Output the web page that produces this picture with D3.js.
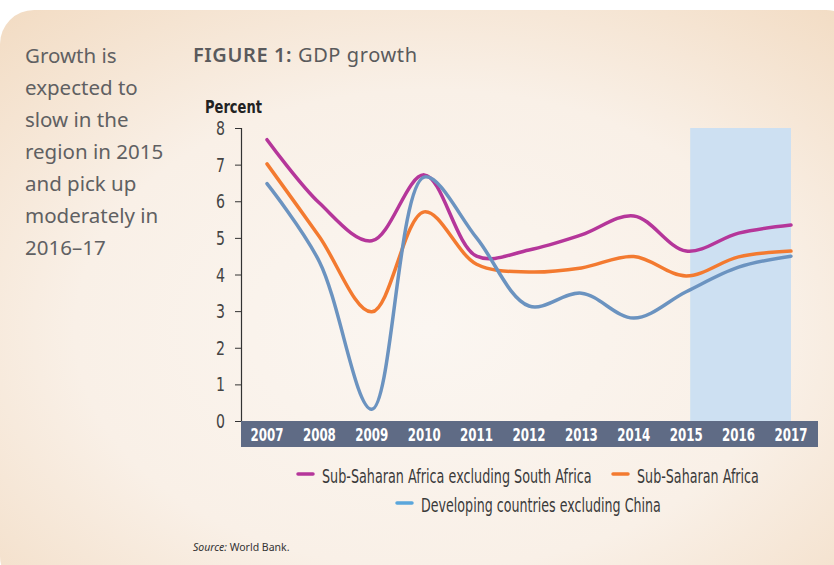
<!DOCTYPE html>
<html>
<head>
<meta charset="utf-8">
<script src="https://cdn.jsdelivr.net/npm/d3@7"></script>
<style>
  body { margin: 0; background: #fff; }
  svg { display: block; }
</style>
</head>
<body>
<svg id="chart" width="834" height="565"></svg>
<script>
// chart data
const years = [2007, 2008, 2009, 2010, 2011, 2012, 2013, 2014, 2015, 2016, 2017];
const ssaExSA = [7.68, 5.95, 4.92, 6.72, 4.5, 4.67, 5.08, 5.6, 4.64, 5.13, 5.35];
const ssa = [7.02, 5.03, 2.98, 5.71, 4.28, 4.07, 4.18, 4.49, 3.96, 4.48, 4.64];
const devExChina = [6.48, 4.35, 0.32, 6.66, 5.0, 3.14, 3.49, 2.81, 3.53, 4.2, 4.5];
const yTicks = [0, 1, 2, 3, 4, 5, 6, 7, 8];
const forecastYears = [2015, 2017];

const seriesList = [
  { name: 'Sub-Saharan Africa excluding South Africa', values: ssaExSA, color: '#b5369a' },
  { name: 'Sub-Saharan Africa', values: ssa, color: '#f37a30' },
  { name: 'Developing countries excluding China', values: devExChina, color: '#6b93c0' }
];

const svg = d3.select('#chart');
const avenir = '"Noto Sans", "Lato", sans-serif';
const narrow = '"DejaVu Sans", sans-serif';

// squeeze a text horizontally (no condensed font installed)
function squeeze (sel, x0, y0, w, anchor) {
  sel.each(function () {
    const t = d3.select(this);
    const len = this.getComputedTextLength();
    const k = Math.min(1, w / len);
    let dx = 0;
    if (anchor === 'middle') dx = -len * k / 2;
    if (anchor === 'end') dx = -len * k;
    t.attr('x', 0).attr('y', 0).attr('text-anchor', 'start')
      .attr('transform', `translate(${x0 + dx},${y0}) scale(${k},1)`);
  });
}

// background panel
const defs = svg.append('defs');
const grad = defs.append('radialGradient')
  .attr('id', 'bg')
  .attr('cx', '50%').attr('cy', '55%').attr('r', '75%');
grad.append('stop').attr('offset', '0%').attr('stop-color', '#fbf6f1');
grad.append('stop').attr('offset', '55%').attr('stop-color', '#f9f0e7');
grad.append('stop').attr('offset', '100%').attr('stop-color', '#f2dbc2');

svg.append('rect')
  .attr('x', 0).attr('y', 10)
  .attr('width', 860).attr('height', 580)
  .attr('rx', 34)
  .attr('fill', 'url(#bg)');

// left side text
const blurb = ['Growth is', 'expected to', 'slow in the', 'region in 2015', 'and pick up', 'moderately in', '2016–17'];
svg.append('g')
  .selectAll('text')
  .data(blurb)
  .join('text')
  .attr('x', 25)
  .attr('y', (d, i) => 63 + i * 32)
  .attr('font-family', avenir)
  .attr('font-size', 20.5)
  .attr('fill', '#606062')
  .text(d => d);

// title
const title = svg.append('text')
  .attr('x', 193).attr('y', 62)
  .attr('font-family', avenir)
  .attr('font-size', 20)
  .attr('letter-spacing', 0.6)
  .attr('fill', '#5a5a5c');
title.append('tspan').attr('font-weight', 600).text('FIGURE 1: ');
title.append('tspan').text('GDP growth');

// scales
const margin = { left: 241, right: 818, top: 128, bottom: 421 };
const x = d3.scalePoint()
  .domain(years)
  .range([267, 791]);
const y = d3.scaleLinear()
  .domain([0, 8])
  .range([margin.bottom, margin.top]);

// forecast shading
svg.append('rect')
  .attr('x', x(forecastYears[0]) + 4)
  .attr('y', y(8))
  .attr('width', x(forecastYears[1]) - x(forecastYears[0]) - 4)
  .attr('height', y(0) - y(8))
  .attr('fill', '#cde0f2');

// y axis
const yAxis = svg.append('g')
  .attr('transform', `translate(${margin.left},0)`)
  .call(d3.axisLeft(y).tickValues(yTicks).tickSize(6).tickFormat(''));
yAxis.select('.domain').attr('stroke', '#333').attr('stroke-width', 1.2);
yAxis.selectAll('.tick line').attr('stroke', '#333');

svg.append('g')
  .selectAll('text')
  .data(yTicks)
  .join('text')
  .attr('font-family', narrow)
  .attr('font-size', 20)
  .attr('fill', '#444')
  .text(d => d)
  .call(s => s.each(function (d) {
    squeeze(d3.select(this), 225, y(d) + 7, 9, 'end');
  }));

svg.append('text')
  .attr('font-family', narrow)
  .attr('font-weight', 'bold')
  .attr('font-size', 18)
  .attr('fill', '#222')
  .text('Percent')
  .call(s => squeeze(s, 205, 113, 57, 'start'));

// x band
svg.append('rect')
  .attr('x', margin.left).attr('y', margin.bottom)
  .attr('width', margin.right - margin.left).attr('height', 26)
  .attr('fill', '#5f6b85');

svg.append('g')
  .selectAll('text')
  .data(years)
  .join('text')
  .attr('font-family', narrow)
  .attr('font-weight', 'bold')
  .attr('font-size', 17)
  .attr('fill', '#fff')
  .text(d => d)
  .call(s => s.each(function (d) {
    squeeze(d3.select(this), x(d), 441, 33, 'middle');
  }));

// lines
const line = d3.line()
  .x((d, i) => x(years[i]))
  .y(d => y(d))
  .curve(d3.curveCatmullRom.alpha(0.5));

svg.append('g')
  .selectAll('path')
  .data(seriesList)
  .join('path')
  .attr('d', d => line(d.values))
  .attr('fill', 'none')
  .attr('stroke', d => d.color)
  .attr('stroke-width', 3.5)
  .attr('stroke-linecap', 'round');

// legend
const legendItems = [
  { s: seriesList[0], x: 298, y: 474, w: 270 },
  { s: seriesList[1], x: 613, y: 474, w: 122 },
  { s: { name: seriesList[2].name, color: '#5aa6dc' }, x: 397, y: 503, w: 240 }
];
const lg = svg.append('g').selectAll('g')
  .data(legendItems)
  .join('g')
  .attr('transform', d => `translate(${d.x},${d.y})`);
lg.append('line')
  .attr('x1', 0).attr('x2', 15)
  .attr('stroke', d => d.s.color)
  .attr('stroke-width', 3.5)
  .attr('stroke-linecap', 'round');
lg.append('text')
  .attr('font-family', narrow)
  .attr('font-size', 19.5)
  .attr('fill', '#3a3a3a')
  .text(d => d.s.name)
  .each(function (d) {
    squeeze(d3.select(this), 24, 8.5, d.w, 'start');
  });

// source
const src = svg.append('text')
  .attr('x', 193).attr('y', 551)
  .attr('font-family', avenir)
  .attr('font-size', 10.5)
  .attr('fill', '#333');
src.append('tspan').attr('font-style', 'italic').text('Source: ');
src.append('tspan').text('World Bank.');
</script>
</body>
</html>
